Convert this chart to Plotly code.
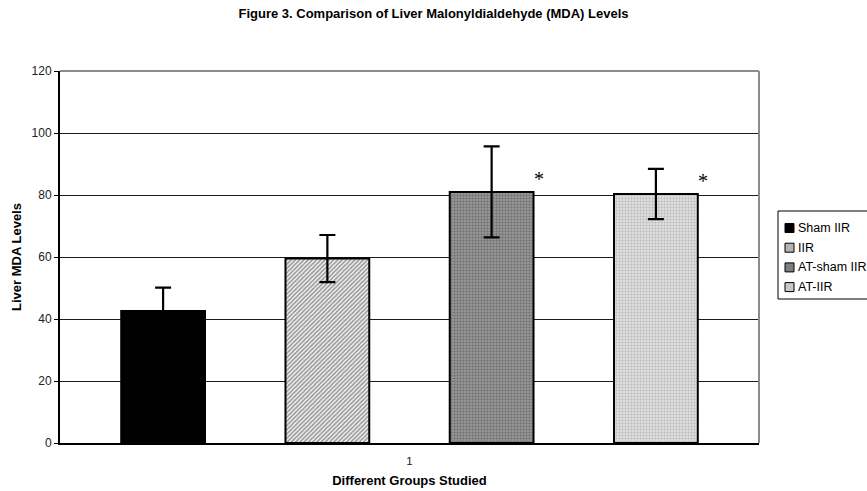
import plotly.graph_objects as go

# Liver MDA levels per group (mean ± error)
groups = ["Sham IIR", "IIR", "AT-sham IIR", "AT-IIR"]
means = [42.6, 59.5, 81.0, 80.3]
errors = [7.5, 7.6, 14.7, 8.1]
significant = [False, False, True, True]
category = ["1"]

BARGAP = 0.06
BARGROUPGAP = 0.49

# plot area geometry in pixels
W, H = 867, 491
L, R, T, B = 60, 108, 71, 48
PW, PH = W - L - R, H - T - B

fills = [
    dict(color="#000000"),
    dict(color="#ffffff", pattern=dict(shape="/", fgcolor="#3a3a3a", bgcolor="#ffffff", size=3, solidity=0.6)),
    dict(color="#8a8a8a", pattern=dict(shape=".", fgcolor="#4a4a4a", bgcolor="#9e9e9e", size=3, solidity=0.5)),
    dict(color="#d6d6d6", pattern=dict(shape=".", fgcolor="#9a9a9a", bgcolor="#e6e6e6", size=3, solidity=0.5)),
]
swatch_colors = ["#000000", "#b4b4b4", "#7e7e7e", "#c8c8c8"]

fig = go.Figure()
for name, m, e, fill in zip(groups, means, errors, fills):
    marker = dict(line=dict(color="#000000", width=2), **fill)
    fig.add_trace(go.Bar(
        x=category, y=[m], name=name, marker=marker, showlegend=False,
        error_y=dict(type="data", array=[e], visible=True, color="#000000", thickness=2.2, width=8),
    ))

# significance markers to the right of each flagged bar
n = len(groups)
slot = (1 - BARGAP) / n
half = slot * (1 - BARGROUPGAP) / 2
for i, (m, flag) in enumerate(zip(means, significant)):
    if flag:
        cx = (i - (n - 1) / 2) * slot
        fig.add_annotation(x=cx + half, y=m, xref="x", yref="y", text="*",
                           showarrow=False, xanchor="left", yanchor="bottom",
                           xshift=-2, yshift=0,
                           font=dict(family="Liberation Serif", size=20, color="#000000"))

# plot-area frame: gray top and right edges
fig.add_shape(type="line", xref="paper", yref="paper", x0=0, y0=1, x1=1, y1=1,
              line=dict(color="#8c8c8c", width=2), layer="above")
fig.add_shape(type="line", xref="paper", yref="paper", x0=1, y0=0, x1=1, y1=1,
              line=dict(color="#8c8c8c", width=2), layer="above")


def px_x(p):
    return (p - L) / PW


def px_y(p):
    return (H - B - p) / PH


# legend box with swatches and labels
box_left, box_top, box_right, box_bottom = 778, 211, 870, 299
fig.add_shape(type="rect", xref="paper", yref="paper",
              x0=px_x(box_left), x1=px_x(box_right), y0=px_y(box_bottom), y1=px_y(box_top),
              line=dict(color="#000000", width=1), fillcolor="#ffffff", layer="above")
row0, row_step = 228, 19.7
for i, (name, col) in enumerate(zip(groups, swatch_colors)):
    yc = row0 + i * row_step
    fig.add_shape(type="rect", xref="paper", yref="paper",
                  x0=px_x(785), x1=px_x(794), y0=px_y(yc + 4.5), y1=px_y(yc - 4.5),
                  line=dict(color="#000000", width=1), fillcolor=col, layer="above")
    fig.add_annotation(x=px_x(796), y=px_y(yc), xref="paper", yref="paper", text=name,
                       showarrow=False, xanchor="left", yanchor="middle",
                       font=dict(size=12.5, color="#000000"))

fig.update_layout(
    width=W, height=H,
    margin=dict(l=L, r=R, t=T, b=B, autoexpand=False),
    paper_bgcolor="#ffffff", plot_bgcolor="#ffffff",
    barmode="group", bargap=BARGAP, bargroupgap=BARGROUPGAP,
    font=dict(family="Liberation Sans", color="#000000", size=12),
    title=dict(text="<b>Figure 3. Comparison of Liver Malonyldialdehyde (MDA) Levels</b>",
               x=0.5, xref="container", xanchor="center", y=0.972, yanchor="middle",
               font=dict(size=13)),
    showlegend=False,
    xaxis=dict(type="category", showgrid=False, showline=True, linecolor="#000000", linewidth=2,
               ticks="", tickfont=dict(size=11.5, color="#222222"), ticklabelstandoff=6,
               title=dict(text="<b>Different Groups Studied</b>", font=dict(size=13), standoff=10)),
    yaxis=dict(range=[0, 120], dtick=20, showgrid=True, gridcolor="#1a1a1a", gridwidth=1,
               showline=True, linecolor="#000000", linewidth=2, ticks="outside", ticklen=4,
               tickcolor="#000000", tickfont=dict(size=12, color="#222222"), zeroline=False,
               title=dict(text="<b>Liver MDA Levels</b>", font=dict(size=13), standoff=7)),
)

fig.write_html("out.html")
